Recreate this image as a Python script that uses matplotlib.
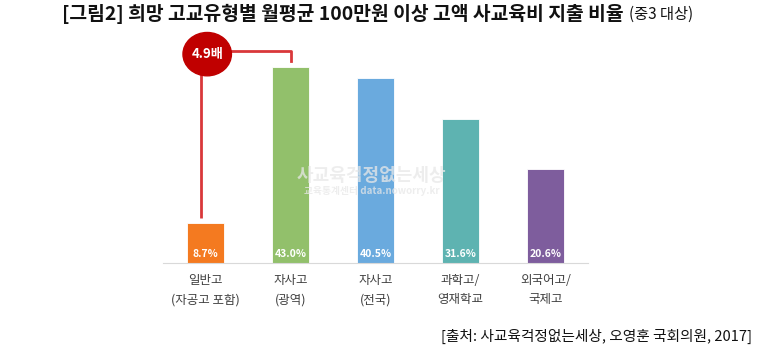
import matplotlib.pyplot as plt
from matplotlib.patches import Ellipse

plt.rcParams['font.family'] = ['Noto Sans CJK KR', 'DejaVu Sans']

# data
categories = ['일반고\n(자공고 포함)', '자사고\n(광역)', '자사고\n(전국)', '과학고/\n영재학교', '외국어고/\n국제고']
values = [8.7, 43.0, 40.5, 31.6, 20.6]
value_labels = ['8.7%', '43.0%', '40.5%', '31.6%', '20.6%']
colors = ['#F47A20', '#92C06B', '#6AAADE', '#5EB3B1', '#7E5D9D']
ratio_label = '4.9배'

fig = plt.figure(figsize=(7.58, 3.51), dpi=100)
ax = fig.add_axes([163 / 758, 88 / 351, 425 / 758, 228 / 351])

x = list(range(len(values)))
ax.bar(x, values, width=0.44, color=colors, edgecolor='white', linewidth=0.6, zorder=2)
for xi, lab in zip(x, value_labels):
    ax.text(xi, 2.0, lab, ha='center', va='center', color='white',
            fontsize=7.5, fontweight='bold', zorder=4)

ax.set_xlim(-0.5, 4.5)
ax.set_ylim(0, 50)
for s in ['top', 'right', 'left']:
    ax.spines[s].set_visible(False)
ax.spines['bottom'].set_color('#d9d9d9')
ax.set_yticks([])
ax.set_xticks(x)
ax.set_xticklabels(categories, fontsize=9, color='#404040', linespacing=1.6)
ax.tick_params(axis='x', length=0, pad=8)

# comparison bracket
red = '#D9383A'
ax.plot([-0.053, -0.053], [values[0] + 1.2, 45.5], color=red, lw=2, zorder=3, solid_capstyle='butt')
ax.plot([0.02, 1.0, 1.0], [46.5, 46.5, 44.2], color=red, lw=2, zorder=3)
ax.add_patch(Ellipse((0.02, 45.8), 0.57, 9.5, color='#C00000', zorder=5, clip_on=False))
ax.text(0.02, 45.8, ratio_label, ha='center', va='center', color='white',
        fontsize=9.5, fontweight='bold', zorder=6)

# watermark
fig.text(371 / 758, 1 - 175 / 351, '사교육걱정없는세상', ha='center', va='center',
         fontsize=13, color='#e8e8e8', alpha=0.75, fontweight='bold', zorder=10)
fig.text(372 / 758, 1 - 191 / 351, '교육통계센터 data.noworry.kr', ha='center', va='center',
         fontsize=7, color='#e8e8e8', alpha=0.75, fontweight='bold', zorder=10)

# title and source
fig.text(62 / 758, 1 - 14 / 351, '[그림2] 희망 고교유형별 월평균 100만원 이상 고액 사교육비 지출 비율',
         ha='left', va='center', fontsize=13.9, fontweight='bold', color='#111111')
fig.text(629 / 758, 1 - 14 / 351, '(중3 대상)', ha='left', va='center', fontsize=11, color='#111111')
fig.text(752 / 758, 1 - 336 / 351, '[출처: 사교육걱정없는세상, 오영훈 국회의원, 2017]',
         ha='right', va='center', fontsize=10.6, color='#111111')

fig.savefig('out.png', dpi=100)
